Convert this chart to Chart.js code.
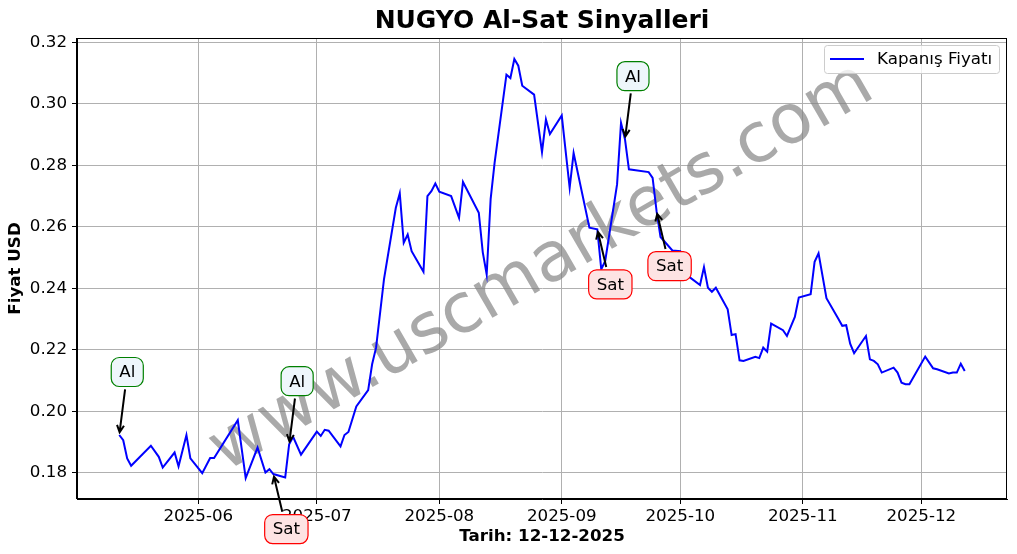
<!DOCTYPE html>
<html>
<head>
<meta charset="utf-8">
<script src="https://cdn.jsdelivr.net/npm/chart.js@4.4.0/dist/chart.umd.min.js"></script>
<style>
  html, body { margin: 0; padding: 0; background: #fff; }
</style>
</head>
<body>
<canvas id="chart" width="1017" height="554"></canvas>
<script>
// closing prices (turning points)
var dates = [
  '2025-05-12','2025-05-13','2025-05-14','2025-05-15','2025-05-20','2025-05-22','2025-05-23','2025-05-26',
  '2025-05-27','2025-05-29','2025-05-30','2025-06-02','2025-06-04','2025-06-05','2025-06-11','2025-06-13',
  '2025-06-16','2025-06-18','2025-06-19','2025-06-20','2025-06-23','2025-06-24','2025-06-25','2025-06-27',
  '2025-07-01','2025-07-02','2025-07-03','2025-07-04','2025-07-07','2025-07-08','2025-07-09','2025-07-11',
  '2025-07-14','2025-07-15','2025-07-16','2025-07-18','2025-07-21','2025-07-22','2025-07-23','2025-07-24',
  '2025-07-25','2025-07-28','2025-07-29','2025-07-30','2025-07-31','2025-08-01','2025-08-04','2025-08-06',
  '2025-08-07','2025-08-11','2025-08-12','2025-08-13','2025-08-14','2025-08-15','2025-08-18','2025-08-19',
  '2025-08-20','2025-08-21','2025-08-22','2025-08-25','2025-08-27','2025-08-28','2025-08-29','2025-09-01',
  '2025-09-03','2025-09-04','2025-09-08','2025-09-10','2025-09-11','2025-09-12','2025-09-15','2025-09-16',
  '2025-09-17','2025-09-18','2025-09-23','2025-09-24','2025-09-25','2025-09-26','2025-09-29','2025-10-01',
  '2025-10-03','2025-10-06','2025-10-07','2025-10-08','2025-10-09','2025-10-10','2025-10-13','2025-10-14',
  '2025-10-15','2025-10-16','2025-10-17','2025-10-20','2025-10-21','2025-10-22','2025-10-23','2025-10-24',
  '2025-10-27','2025-10-28','2025-10-30','2025-10-31','2025-11-03','2025-11-04','2025-11-05','2025-11-07',
  '2025-11-10','2025-11-11','2025-11-12','2025-11-13','2025-11-14','2025-11-17','2025-11-18','2025-11-19',
  '2025-11-20','2025-11-21','2025-11-24','2025-11-25','2025-11-26','2025-11-27','2025-11-28','2025-12-02',
  '2025-12-04','2025-12-05','2025-12-08','2025-12-09','2025-12-10','2025-12-11','2025-12-12'
];
var closes = [
  0.1923,0.1906,0.1847,0.1823,0.1888,0.1852,0.1817,0.1866,
  0.1821,0.1923,0.1847,0.1799,0.1848,0.1848,0.1971,0.1783,
  0.1882,0.1801,0.1812,0.1796,0.1785,0.1893,0.1917,0.1859,
  0.1934,0.1920,0.1940,0.1937,0.1886,0.1923,0.1933,0.2016,
  0.2069,0.2153,0.2207,0.2429,0.2662,0.2709,0.2548,0.2575,
  0.2521,0.2454,0.2700,0.2716,0.2741,0.2714,0.2700,0.2629,
  0.2746,0.2646,0.2518,0.2445,0.2690,0.2808,0.3095,0.3084,
  0.3146,0.3124,0.3059,0.3030,0.2843,0.2949,0.2902,0.2962,
  0.2727,0.2840,0.2597,0.2592,0.2462,0.2489,0.2738,0.2938,
  0.2885,0.2787,0.2778,0.2759,0.2651,0.2567,0.2523,0.2521,
  0.2440,0.2411,0.2469,0.2402,0.2389,0.2402,0.2332,0.2248,
  0.2251,0.2166,0.2164,0.2177,0.2173,0.2207,0.2194,0.2285,
  0.2264,0.2245,0.2307,0.2370,0.2381,0.2486,0.2514,0.2368,
  0.2301,0.2278,0.2280,0.2220,0.2189,0.2245,0.2169,0.2164,
  0.2153,0.2126,0.2142,0.2126,0.2093,0.2088,0.2088,0.2178,
  0.2140,0.2137,0.2123,0.2126,0.2126,0.2155,0.2131
];

// buy / sell signals
var signalDates = ['2025-05-12', '2025-06-20', '2025-06-24', '2025-09-10', '2025-09-17', '2025-09-25'];
var signalTypes = ['Al', 'Sat', 'Al', 'Sat', 'Al', 'Sat'];

// axis ticks
var monthTicks = ['2025-06', '2025-07', '2025-08', '2025-09', '2025-10', '2025-11', '2025-12'];
var priceTicks = [0.18, 0.20, 0.22, 0.24, 0.26, 0.28, 0.30, 0.32];

var FONT = "'DejaVu Sans', 'Liberation Sans', sans-serif";

var points = dates.map(function(d, i) { return {x: Date.parse(d), y: closes[i]}; });

// matplotlib-like 5% margins
var tMin = points[0].x, tMax = points[points.length - 1].x;
var tPad = (tMax - tMin) * 0.05;
var vMin = Math.min.apply(null, closes), vMax = Math.max.apply(null, closes);
var vPad = (vMax - vMin) * 0.05;

function monthValue(m) {
    var p = m.split('-');
    return Date.UTC(+p[0], +p[1] - 1, 1);
}

var marksPlugin = {
    id: 'marks',
    beforeDatasetsDraw: function(chart) {
        var ctx = chart.ctx, a = chart.chartArea;
        // watermark
        ctx.save();
        ctx.translate((a.left + a.right) / 2, (a.top + a.bottom) / 2);
        ctx.rotate(-30 * Math.PI / 180);
        ctx.font = '69px ' + FONT;
        ctx.fillStyle = 'rgba(128,128,128,0.68)';
        ctx.textAlign = 'center';
        ctx.textBaseline = 'middle';
        ctx.fillText('www.uscmarkets.com', 0, 0);
        ctx.restore();
    },
    afterDraw: function(chart) {
        var ctx = chart.ctx, a = chart.chartArea;
        var xs = chart.scales.x, ys = chart.scales.y;

        // frame
        ctx.save();
        ctx.strokeStyle = '#000';
        ctx.lineWidth = 1;
        ctx.strokeRect(Math.round(a.left) - 0.5, Math.round(a.top) + 0.5, Math.round(a.right - a.left), Math.round(a.bottom - a.top) - 1);
        ctx.restore();

        // title
        ctx.save();
        ctx.font = 'bold 25px ' + FONT;
        ctx.fillStyle = '#000';
        ctx.textAlign = 'center';
        ctx.textBaseline = 'middle';
        ctx.fillText('NUGYO Al-Sat Sinyalleri', (a.left + a.right) / 2, 21);
        ctx.restore();

        // legend
        ctx.save();
        var lx = a.right - 183, ly = a.top + 7, lw = 175, lh = 28;
        ctx.beginPath();
        ctx.roundRect(lx + 0.5, ly + 0.5, lw, lh, 3);
        ctx.fillStyle = 'rgba(255,255,255,0.8)';
        ctx.fill();
        ctx.strokeStyle = '#cccccc';
        ctx.lineWidth = 1;
        ctx.stroke();
        ctx.beginPath();
        ctx.moveTo(lx + 6, ly + 14);
        ctx.lineTo(lx + 40, ly + 14);
        ctx.strokeStyle = 'blue';
        ctx.lineWidth = 2;
        ctx.stroke();
        ctx.font = '16.7px ' + FONT;
        ctx.fillStyle = '#000';
        ctx.textBaseline = 'middle';
        ctx.fillText(chart.data.datasets[0].label, lx + 53, ly + 14.5);
        ctx.restore();

        // signal annotations
        ctx.save();
        ctx.font = '16.7px ' + FONT;
        signalDates.forEach(function(d, i) {
            var idx = dates.indexOf(d);
            var px = xs.getPixelForValue(Date.parse(d));
            var py = ys.getPixelForValue(closes[idx]);
            var buy = signalTypes[i] === 'Al';
            var cx = px + (buy ? 8 : 13);
            var cy = py + (buy ? -63 : 55);
            var tw = ctx.measureText(signalTypes[i]).width;
            var hw = tw / 2 + 8, hh = 14.5;

            // arrow
            var dx = px - cx, dy = py - cy, len = Math.sqrt(dx * dx + dy * dy);
            var ux = dx / len, uy = dy / len;
            var t = Math.min(Math.abs(ux) > 1e-6 ? hw / Math.abs(ux) : 1e9, hh / Math.abs(uy));
            var sx = cx + ux * (t + 2.8), sy = cy + uy * (t + 2.8);
            var ex = px - ux * 2.8, ey = py - uy * 2.8;
            ctx.strokeStyle = '#000';
            ctx.lineWidth = 2;
            ctx.beginPath();
            ctx.moveTo(sx, sy);
            ctx.lineTo(ex, ey);
            var hl = 7, hwd = 3.5, nx = -uy, ny = ux;
            ctx.moveTo(ex - ux * hl + nx * hwd, ey - uy * hl + ny * hwd);
            ctx.lineTo(ex, ey);
            ctx.lineTo(ex - ux * hl - nx * hwd, ey - uy * hl - ny * hwd);
            ctx.stroke();

            // box
            ctx.beginPath();
            ctx.roundRect(cx - hw, cy - hh, hw * 2, hh * 2, 8);
            ctx.fillStyle = buy ? '#eef6fb' : '#fde3e3';
            ctx.fill();
            ctx.strokeStyle = buy ? '#008000' : '#ff0000';
            ctx.lineWidth = 1.2;
            ctx.stroke();
            ctx.fillStyle = '#000';
            ctx.textAlign = 'center';
            ctx.textBaseline = 'middle';
            ctx.fillText(signalTypes[i], cx, cy + 1);
        });
        ctx.restore();
    }
};

new Chart(document.getElementById('chart').getContext('2d'), {
    type: 'line',
    data: {
        datasets: [{
            label: 'Kapanış Fiyatı',
            data: points,
            borderColor: 'blue',
            borderWidth: 2,
            pointRadius: 0,
            tension: 0,
            fill: false
        }]
    },
    options: {
        responsive: false,
        animation: false,
        devicePixelRatio: 1,
        parsing: false,
        layout: { padding: { left: 0, right: 10, top: 38, bottom: 0 } },
        plugins: {
            legend: { display: false },
            title: { display: false },
            tooltip: { enabled: false }
        },
        scales: {
            x: {
                type: 'linear',
                min: tMin - tPad,
                max: tMax + tPad,
                afterFit: function(scale) { scale.height = 55; },
                afterBuildTicks: function(scale) {
                    scale.ticks = monthTicks.map(function(m) { return {value: monthValue(m)}; });
                },
                ticks: {
                    autoSkip: false,
                    maxRotation: 0,
                    padding: 3,
                    color: '#000',
                    font: { family: FONT, size: 16.7 },
                    callback: function(v) {
                        var dt = new Date(v);
                        var mm = dt.getUTCMonth() + 1;
                        return dt.getUTCFullYear() + '-' + (mm < 10 ? '0' : '') + mm;
                    }
                },
                grid: { color: '#b0b0b0', lineWidth: 1, tickLength: 5, tickColor: '#000', drawTicks: true },
                border: { display: true, color: '#000', width: 1 },
                title: {
                    display: true,
                    text: 'Tarih: 12-12-2025',
                    color: '#000',
                    font: { family: FONT, size: 16.7, weight: 'bold' },
                    padding: { top: 0, bottom: 7 }
                }
            },
            y: {
                type: 'linear',
                min: vMin - vPad,
                max: vMax + vPad,
                afterFit: function(scale) { scale.width = 77; },
                afterBuildTicks: function(scale) {
                    scale.ticks = priceTicks.map(function(v) { return {value: v}; });
                },
                ticks: {
                    padding: 5,
                    color: '#000',
                    font: { family: FONT, size: 16.7 },
                    callback: function(v) { return v.toFixed(2); }
                },
                grid: { color: '#b0b0b0', lineWidth: 1, tickLength: 5, tickColor: '#000', drawTicks: true },
                border: { display: true, color: '#000', width: 1 },
                title: {
                    display: true,
                    text: 'Fiyat USD',
                    color: '#000',
                    font: { family: FONT, size: 16.7, weight: 'bold' },
                    padding: { top: 6, bottom: 0 }
                }
            }
        }
    },
    plugins: [marksPlugin]
});
</script>
</body>
</html>
